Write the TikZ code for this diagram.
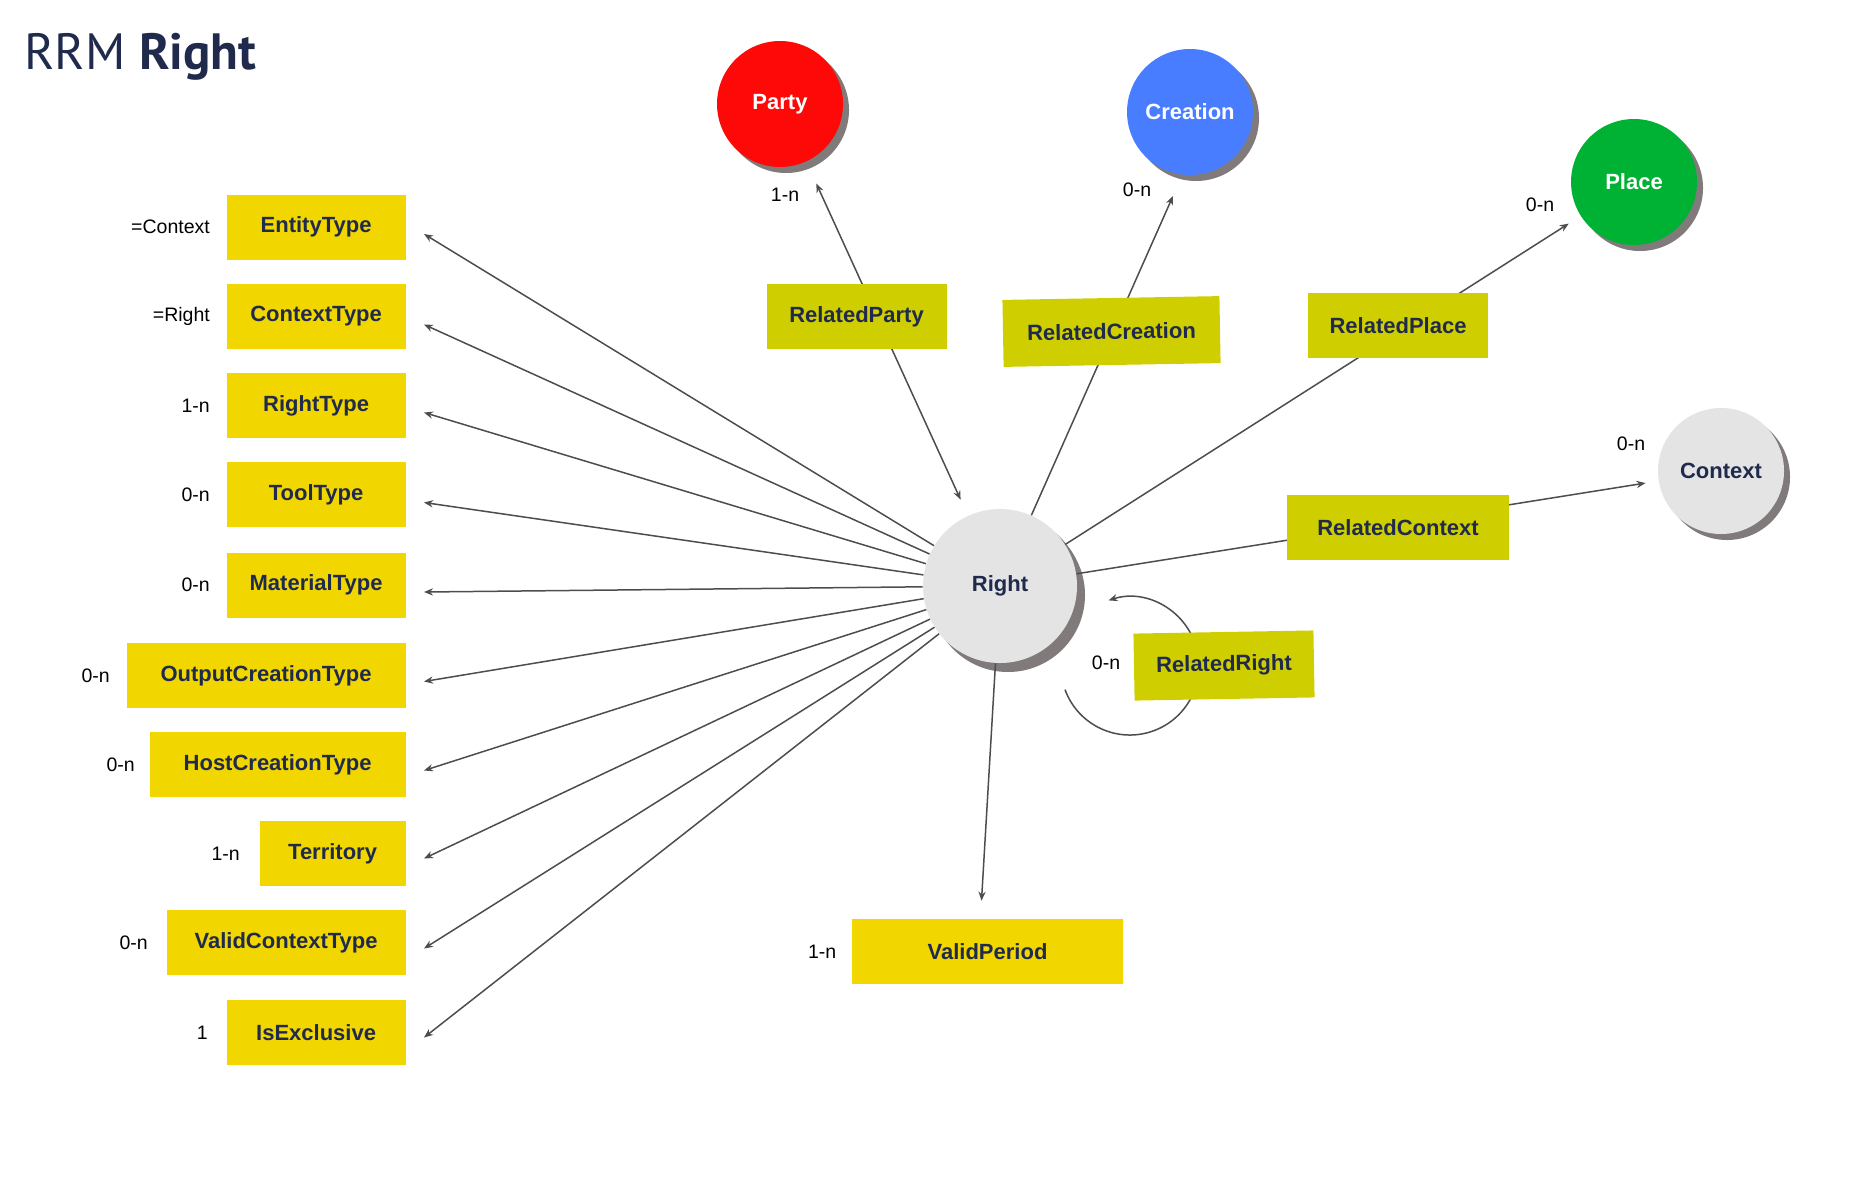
\documentclass[tikz,border=0pt]{standalone}
\usepackage{fontspec}
\setmainfont{Liberation Sans}
\newfontfamily\titlefont{PT Sans}
\usetikzlibrary{positioning,shadows,arrows.meta}

\definecolor{navy}{RGB}{31,42,76}
\definecolor{boxyellow}{RGB}{242,214,0}
\definecolor{relyellow}{RGB}{206,206,0}
\definecolor{partyred}{RGB}{255,8,8}
\definecolor{creablue}{RGB}{72,125,255}
\definecolor{placegreen}{RGB}{0,178,51}
\definecolor{ctxgray}{RGB}{228,228,228}
\definecolor{shadowgray}{RGB}{128,122,122}
\definecolor{linegray}{RGB}{77,77,77}

\begin{document}
\begin{tikzpicture}[
      x = .5pt, y = -.5pt,
      every node/.style = {
        inner sep = 0pt, text = navy,
        font = \fontsize{11}{13}\selectfont\bfseries},
      type/.style = {
        fill = boxyellow, anchor = east,
        minimum width = 89.5pt, minimum height = 32.5pt},
      rel/.style = {
        fill = relyellow, minimum width = 90pt, minimum height = 32.5pt},
      entity/.style = {
        circle, minimum size = 63pt,
        drop shadow = {shadow xshift = 3pt, shadow yshift = -3pt,
          fill = shadowgray, opacity = 1}},
      card/.style = {
        inner sep = 1pt, text = black,
        font = \fontsize{9.75}{11}\selectfont},
      link/.style = {
        draw = linegray, line width = .75pt},
      > = {Stealth[length = 4.5pt, width = 3.6pt]}
      ]
    \useasboundingbox (0,0) rectangle (1850,1184);
    \node[anchor = base west, text = navy,
      font = \titlefont\fontsize{25.5}{30}\selectfont] (title) at (24,69)
      {RRM \textbf{Right}};
    % entities
    \node[entity, fill = partyred, text = white] (party) at (780,104) {Party};
    \node[entity, fill = creablue, text = white] (creation) at (1190,112) {Creation};
    \node[entity, fill = placegreen, text = white] (place) at (1634,182) {Place};
    \node[entity, fill = ctxgray] (context) at (1721,471) {Context};
    \node[entity, fill = ctxgray, minimum size = 77pt,
      drop shadow = {shadow xshift = 4pt, shadow yshift = -4.5pt,
        fill = shadowgray, opacity = 1}] (right) at (1000,586) {Right};
    % types
    \node[type] (ent) at (406,227) {EntityType}; % 0
    \node[type] (ctx) at (406,316.5) {ContextType}; % 1
    \node[type] (rty) at (406,405.5) {RightType}; % 2
    \node[type] (tool) at (406,494.5) {ToolType}; % 3
    \node[type] (mat) at (406,585) {MaterialType}; % 4
    \node[type, minimum width = 139.5pt] (ocr) at (406,675.5) {OutputCreationType}; % 5
    \node[type, minimum width = 128pt] (hcr) at (406,764.5) {HostCreationType}; % 6
    \node[type, minimum width = 73pt] (ter) at (406,853.5) {Territory}; % 7
    \node[type, minimum width = 119.5pt] (vct) at (406,942.5) {ValidContextType}; % 8
    \node[type] (exc) at (406,1032.5) {IsExclusive}; % 9
    \node[type, anchor = center, minimum width = 135.5pt] (vp) at (987.5,951.5) {ValidPeriod};
    % cardinalities
    \node[card, left = 7pt of ent] {=Context};
    \node[card, left = 7pt of ctx] {=Right};
    \node[card, left = 7pt of rty] {1-n};
    \node[card, left = 7pt of tool] {0-n};
    \node[card, left = 7pt of mat] {0-n};
    \node[card, left = 7pt of ocr] {0-n};
    \node[card, left = 6pt of hcr] {0-n};
    \node[card, left = 8.5pt of ter] {1-n};
    \node[card, left = 8pt of vct] {0-n};
    \node[card, left = 8pt of exc] {1};
    \node[card, left = 6.5pt of vp] {1-n};
    \node[card] at (785,195) {1-n};
    \node[card] at (1137,190) {0-n};
    \node[card] at (1540,205) {0-n};
    \node[card] at (1631,444) {0-n};
    \node[card] at (1106,663) {0-n};
    % links
    \draw[link, ->] (right) -- ([shift = {(18,7)}]ent.east);
    \draw[link, ->] (right) -- ([shift = {(18,8)}]ctx.east);
    \draw[link, ->] (right) -- ([shift = {(18,7)}]rty.east);
    \draw[link, ->] (right) -- ([shift = {(18,8)}]tool.east);
    \draw[link, ->] (right) -- ([shift = {(18,7)}]mat.east);
    \draw[link, ->] (right) -- ([shift = {(18,6)}]ocr.east);
    \draw[link, ->] (right) -- ([shift = {(18,6)}]hcr.east);
    \draw[link, ->] (right) -- ([shift = {(18,5)}]ter.east);
    \draw[link, ->] (right) -- ([shift = {(18,6)}]vct.east);
    \draw[link, ->] (right) -- ([shift = {(18,5)}]exc.east);
    \draw[link, ->] (right) -- ([shift = {(-6,-18)}]vp.north);
    \draw[link, <->, shorten < = 8.75pt, shorten > = 12pt] (right) -- (party);
    \coordinate (tcre) at (1173,196);
    \draw[link, ->] (right) -- (tcre);
    \draw[link, ->, shorten > = 7pt] (right) -- (place);
    \draw[link, ->, shorten > = 6.5pt] (right) -- (context);
    \coordinate (loop) at (1065,689.6);
    \draw[link, ->] (loop) arc[start angle = 160, end angle = -108, radius = 69];
    % relations
    \node[rel] (rparty) at (856.5,316.5) {RelatedParty};
    \node[rel, rotate = 1, minimum width = 108.5pt, minimum height = 33.5pt] (rcreation) at (1111.5,331.5) {RelatedCreation};
    \node[rel] (rplace) at (1398,325.5) {RelatedPlace};
    \node[rel, minimum width = 111pt] (rcontext) at (1398,527.5) {RelatedContext};
    \node[rel, rotate = 1, minimum height = 33.5pt] (rright) at (1224,665.5) {RelatedRight};
  \end{tikzpicture}
\end{document}
